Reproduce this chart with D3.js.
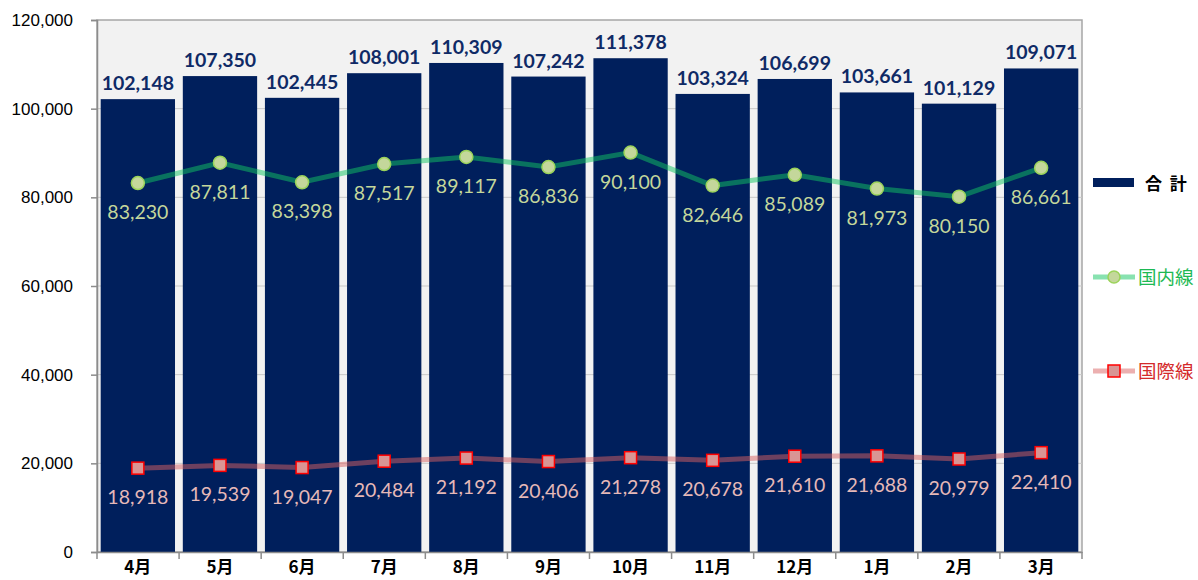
<!DOCTYPE html>
<html>
<head>
<meta charset="utf-8">
<script src="https://d3js.org/d3.v7.min.js"></script>
<style>
    body {margin: 0; background: #fff;}
    svg {display: block;}
    .y-axis text {font-family: "Liberation Sans", Arial, sans-serif; font-size: 17px; fill: #000;}
    .x-axis text {font-family: "Noto Sans CJK JP", sans-serif; font-size: 17px; font-weight: bold; fill: #000;}
    .lbl {font-family: Lato, "Open Sans", sans-serif;}
</style>
</head>
<body>
<div id="chart"></div>
<script>

    let months = ["4月", "5月", "6月", "7月", "8月", "9月", "10月", "11月", "12月", "1月", "2月", "3月"];
    let total = [102148, 107350, 102445, 108001, 110309, 107242, 111378, 103324, 106699, 103661, 101129, 109071];
    let domestic = [83230, 87811, 83398, 87517, 89117, 86836, 90100, 82646, 85089, 81973, 80150, 86661];
    let international = [18918, 19539, 19047, 20484, 21192, 20406, 21278, 20678, 21610, 21688, 20979, 22410];
    let yTicks = [0, 20000, 40000, 60000, 80000, 100000, 120000];

    let margin = {top: 20, left: 97},
        width = 985,
        height = 532;

    let fmt = d3.format(",");

    let svg = d3.select("#chart").append("svg")
        .attr("width", 1198)
        .attr("height", 580);

    let g = svg.append("g")
        .attr("transform", "translate(" + margin.left + "," + margin.top + ")");

    let x = d3.scaleBand()
        .domain(months)
        .range([0, width])
        .paddingInner(0.095)
        .paddingOuter(0.045);

    let y = d3.scaleLinear()
        .domain([0, 120000])
        .range([height, 0]);

    // plot background
    g.append("rect")
        .attr("width", width)
        .attr("height", height)
        .attr("fill", "#f2f2f2")
        .attr("stroke", "#a6a6a6")
        .attr("stroke-width", 1.5);

    // gridlines
    g.selectAll(".grid")
        .data(yTicks.slice(1, -1))
        .enter().append("line")
        .attr("x1", 0)
        .attr("x2", width)
        .attr("y1", d => y(d))
        .attr("y2", d => y(d))
        .attr("stroke", "#c8c8c8")
        .attr("stroke-width", 1);

    // bars
    g.selectAll(".bar")
        .data(total)
        .enter().append("rect")
        .attr("x", (d, i) => x(months[i]))
        .attr("y", d => y(d))
        .attr("width", x.bandwidth())
        .attr("height", d => height - y(d))
        .attr("fill", "#001f5c");

    // axes
    let yAxis = d3.axisLeft(y).tickValues(yTicks).tickFormat(fmt).tickSize(6).tickPadding(18);
    g.append("g").attr("class", "y-axis").call(yAxis)
        .call(a => a.selectAll("line, path").attr("stroke", "#8c8c8c").attr("stroke-width", 1.5));

    let xAxis = d3.axisBottom(x).tickSize(0).tickPadding(9);
    let xa = g.append("g").attr("class", "x-axis")
        .attr("transform", "translate(0," + height + ")")
        .call(xAxis);
    xa.select("path").attr("stroke", "#8c8c8c").attr("stroke-width", 1.5);
    xa.selectAll(".bound")
        .data(d3.range(months.length + 1))
        .enter().append("line")
        .attr("x1", i => Math.min(i * width / months.length, width))
        .attr("x2", i => Math.min(i * width / months.length, width))
        .attr("y1", 0)
        .attr("y2", 7)
        .attr("stroke", "#8c8c8c")
        .attr("stroke-width", 1.5);

    let cx = i => x(months[i]) + x.bandwidth() / 2;

    // domestic line
    let lineFn = d3.line().x((d, i) => cx(i)).y(d => y(d));

    g.append("path")
        .datum(domestic)
        .attr("d", lineFn)
        .attr("fill", "none")
        .attr("stroke", "#12c662")
        .attr("stroke-opacity", 0.5)
        .attr("stroke-width", 5);

    g.selectAll(".dom")
        .data(domestic)
        .enter().append("circle")
        .attr("cx", (d, i) => cx(i))
        .attr("cy", d => y(d))
        .attr("r", 6.5)
        .attr("fill", "#c4d79b")
        .attr("stroke", "#9bd35a")
        .attr("stroke-width", 1.5);

    // international line
    g.append("path")
        .datum(international)
        .attr("d", lineFn)
        .attr("fill", "none")
        .attr("stroke", "#da6262")
        .attr("stroke-opacity", 0.5)
        .attr("stroke-width", 5);

    g.selectAll(".intl")
        .data(international)
        .enter().append("rect")
        .attr("x", (d, i) => cx(i) - 6)
        .attr("y", d => y(d) - 6)
        .attr("width", 12)
        .attr("height", 12)
        .attr("fill", "#d99594")
        .attr("stroke", "#ff0000")
        .attr("stroke-width", 1.5);

    // data labels
    g.selectAll(".tl")
        .data(total)
        .enter().append("text")
        .attr("class", "lbl")
        .attr("x", (d, i) => cx(i))
        .attr("y", d => y(d) - 9)
        .attr("text-anchor", "middle")
        .attr("font-size", 19.5)
        .attr("font-weight", "bold")
        .attr("fill", "#0f2a66")
        .text(fmt);

    g.selectAll(".dl")
        .data(domestic)
        .enter().append("text")
        .attr("class", "lbl")
        .attr("x", (d, i) => cx(i))
        .attr("y", d => y(d) + 36)
        .attr("text-anchor", "middle")
        .attr("font-size", 19.5)
        .attr("fill", "#c4d79b")
        .text(fmt);

    g.selectAll(".il")
        .data(international)
        .enter().append("text")
        .attr("class", "lbl")
        .attr("x", (d, i) => cx(i))
        .attr("y", d => y(d) + 36)
        .attr("text-anchor", "middle")
        .attr("font-size", 19.5)
        .attr("fill", "#e6b9b8")
        .text(fmt);

    // legend
    let legend = svg.append("g").attr("transform", "translate(1093,0)");

    legend.append("rect")
        .attr("x", 0).attr("y", 178)
        .attr("width", 41).attr("height", 9)
        .attr("fill", "#001f5c");
    legend.append("text")
        .attr("x", 52).attr("y", 190)
        .attr("font-family", "'Noto Sans CJK JP', sans-serif")
        .attr("font-size", 17).attr("font-weight", "bold")
        .attr("fill", "#000")
        .attr("xml:space", "preserve")
        .text("合  計");

    legend.append("line")
        .attr("x1", 0).attr("x2", 42).attr("y1", 277).attr("y2", 277)
        .attr("stroke", "#12c662").attr("stroke-opacity", 0.5).attr("stroke-width", 5);
    legend.append("circle")
        .attr("cx", 21).attr("cy", 277).attr("r", 6)
        .attr("fill", "#c4d79b").attr("stroke", "#9bd35a").attr("stroke-width", 1.5);
    legend.append("text")
        .attr("x", 45).attr("y", 284)
        .attr("font-family", "'Noto Sans CJK JP', sans-serif")
        .attr("font-size", 18.5)
        .attr("fill", "#1db954")
        .text("国内線");

    legend.append("line")
        .attr("x1", 0).attr("x2", 42).attr("y1", 371).attr("y2", 371)
        .attr("stroke", "#da6262").attr("stroke-opacity", 0.5).attr("stroke-width", 5);
    legend.append("rect")
        .attr("x", 15).attr("y", 365).attr("width", 12).attr("height", 12)
        .attr("fill", "#d99594").attr("stroke", "#ff0000").attr("stroke-width", 1.5);
    legend.append("text")
        .attr("x", 45).attr("y", 378)
        .attr("font-family", "'Noto Sans CJK JP', sans-serif")
        .attr("font-size", 18.5)
        .attr("fill", "#d42a2a")
        .text("国際線");

</script>
</body>
</html>
